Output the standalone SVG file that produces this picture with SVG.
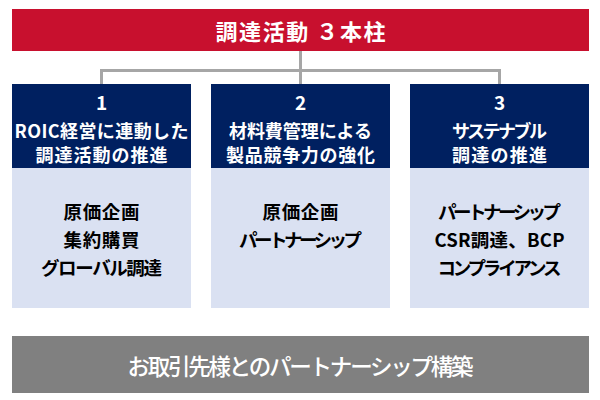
<svg xmlns="http://www.w3.org/2000/svg" width="600" height="400" viewBox="0 0 600 400">
<style>
text{font-family:"Noto Sans CJK JP","Noto Sans",sans-serif;text-anchor:middle;dominant-baseline:central}
.title{fill:#fff;font-size:22px;font-weight:700}
.head{fill:#fff;font-size:18px;font-weight:700}
.num{fill:#fff;font-size:19px;font-weight:700}
.body{fill:#000;font-size:18.5px;font-weight:700}
.foot{fill:#fff;font-size:22.5px;font-weight:500}
.hbox{fill:#002060}
.bbox{fill:#DAE1F2}
.conn{fill:none;stroke:#A6A6A6;stroke-width:3}
</style>
<rect width="600" height="400" fill="#fff"/>
<g id="connectors">
<path class="conn" d="M300.5 51V84M101.5 84V70.5H499.5V84"/>
</g>
<g id="title">
<rect x="12" y="9" width="577" height="42" fill="#C8102E"/>
<text class="title" x="300.5" y="30" textLength="170" lengthAdjust="spacing">調達活動 ３本柱</text>
</g>
<g id="pillar1">
<rect class="hbox" x="12" y="84" width="179" height="84"/>
<rect class="bbox" x="12" y="168" width="179" height="140"/>
<text class="num" x="101.5" y="101">1</text>
<text class="head" x="101.5" y="129.5" textLength="174" lengthAdjust="spacing">ROIC経営に連動した</text>
<text class="head" x="101.5" y="153.5" textLength="132" lengthAdjust="spacing">調達活動の推進</text>
<text class="body" x="101.5" y="210.5" textLength="76" lengthAdjust="spacing">原価企画</text>
<text class="body" x="101.5" y="238.5" textLength="76" lengthAdjust="spacing">集約購買</text>
<text class="body" x="101.5" y="266.5" textLength="121" lengthAdjust="spacing">グローバル調達</text>
</g>
<g id="pillar2">
<rect class="hbox" x="211" y="84" width="179" height="84"/>
<rect class="bbox" x="211" y="168" width="179" height="140"/>
<text class="num" x="300.5" y="101">2</text>
<text class="head" x="300.5" y="129.5" textLength="143" lengthAdjust="spacing">材料費管理による</text>
<text class="head" x="300.5" y="153.5" textLength="149" lengthAdjust="spacing">製品競争力の強化</text>
<text class="body" x="300.5" y="210.5" textLength="76" lengthAdjust="spacing">原価企画</text>
<text class="body" x="300.5" y="238.5" textLength="123" lengthAdjust="spacing">パートナーシップ</text>
</g>
<g id="pillar3">
<rect class="hbox" x="410" y="84" width="179" height="84"/>
<rect class="bbox" x="410" y="168" width="179" height="140"/>
<text class="num" x="499.5" y="101">3</text>
<text class="head" x="499.5" y="129.5" textLength="95" lengthAdjust="spacing">サステナブル</text>
<text class="head" x="499.5" y="153.5" textLength="95" lengthAdjust="spacing">調達の推進</text>
<text class="body" x="499.5" y="210.5" textLength="123" lengthAdjust="spacing">パートナーシップ</text>
<text class="body" x="499.5" y="238.5" textLength="130" lengthAdjust="spacing">CSR調達、BCP</text>
<text class="body" x="499.5" y="266.5" textLength="124" lengthAdjust="spacing">コンプライアンス</text>
</g>
<g id="foundation">
<rect x="12" y="336" width="577" height="57" fill="#808080"/>
<text class="foot" x="300.5" y="364.5" textLength="346" lengthAdjust="spacing">お取引先様とのパートナーシップ構築</text>
</g>
</svg>
